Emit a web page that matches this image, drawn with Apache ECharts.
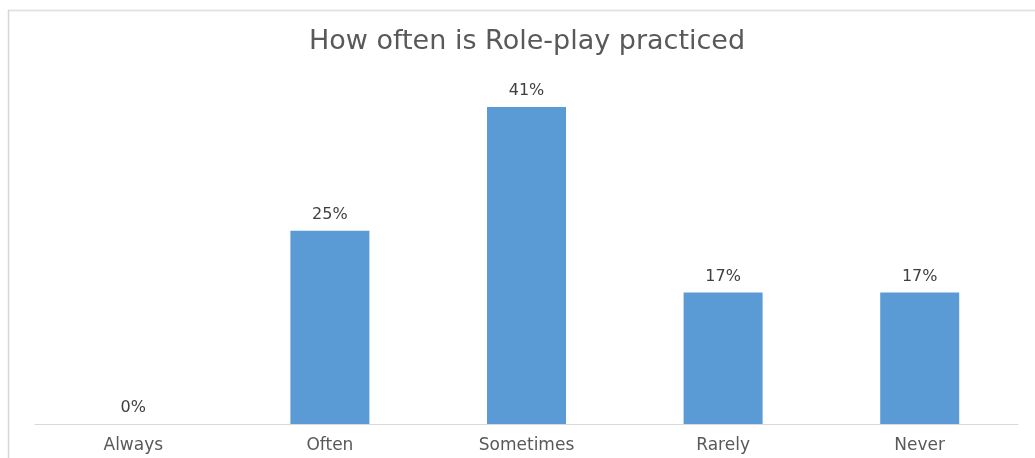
<!DOCTYPE html>
<html><head><meta charset="utf-8">
<script src="https://cdn.jsdelivr.net/npm/echarts@6/dist/echarts.min.js"></script>
<style>html,body{margin:0;padding:0;background:#fff}#c{width:1035px;height:458px}</style>
</head><body><div id="c"></div>
<script>
const categories = ['Always','Often','Sometimes','Rarely','Never'];
const values = [0, 25, 41, 17, 17];
const titleText = 'How often is Role-play practiced';

const chart = echarts.init(document.getElementById('c'));
chart.setOption({
  animation: false,
  backgroundColor: '#fff',
  title: {
    text: titleText, left: 304, top: 23,
    textStyle: {fontFamily: 'DejaVu Sans', fontSize: 27, fontWeight: 'normal', color: '#595959'}
  },
  graphic: [
    {type: 'line', shape: {x1: 8, y1: 10.5, x2: 1040, y2: 10.5}, style: {stroke: '#e3e3e3', lineWidth: 2}},
    {type: 'line', shape: {x1: 8.5, y1: 10, x2: 8.5, y2: 470}, style: {stroke: '#d6d6d6', lineWidth: 1.5}}
  ],
  grid: {left: 35, right: 17, top: 76, bottom: 34},
  xAxis: {
    type: 'category', data: categories,
    axisLine: {lineStyle: {color: '#d9d9d9', width: 1}},
    axisTick: {show: false},
    axisLabel: {fontFamily: 'DejaVu Sans', fontSize: 17, color: '#595959', margin: 13}
  },
  yAxis: {type: 'value', min: 0, max: 45, show: false, splitLine: {show: false}},
  series: [{
    type: 'bar', data: values, barWidth: 79,
    itemStyle: {color: '#5B9BD5'},
    label: {show: true, position: 'top', formatter: '{c}%', fontFamily: 'DejaVu Sans', fontSize: 16, color: '#404040', distance: 8}
  }]
});
</script></body></html>
